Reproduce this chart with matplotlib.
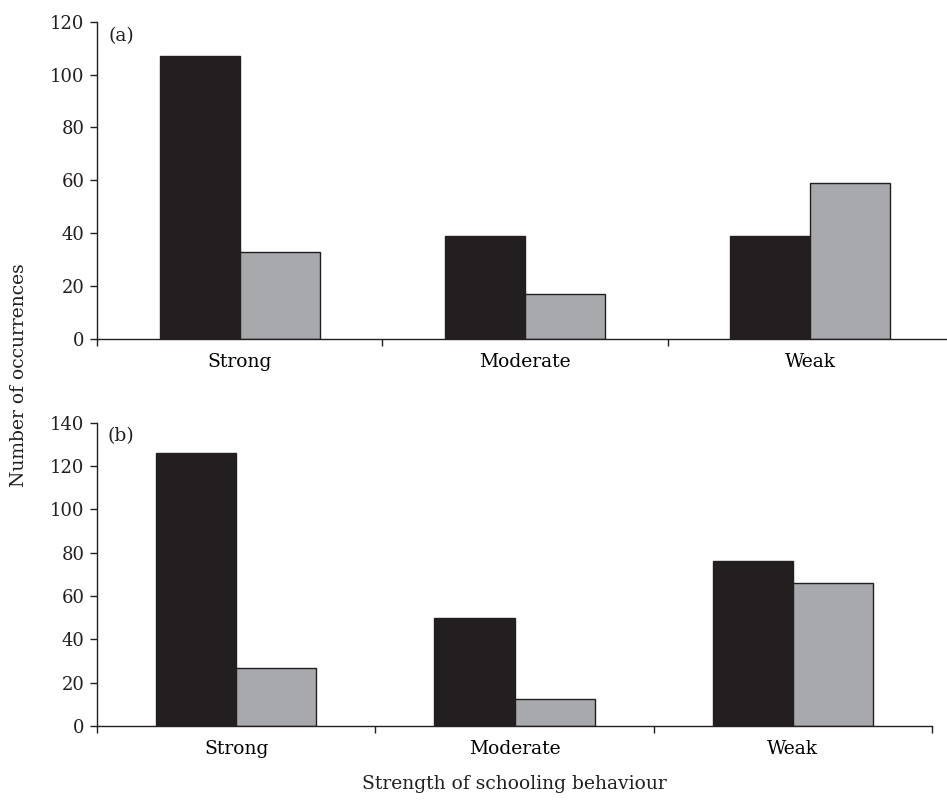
import matplotlib
matplotlib.use("Agg")
import matplotlib.pyplot as plt
import numpy as np

plt.rcParams["font.family"] = ["DejaVu Serif"]

categories = ["Strong", "Moderate", "Weak"]

# panel (a)
a_black = [107, 39, 39]
a_gray = [33, 17, 59]

# panel (b)
b_black = [126, 50, 76]
b_gray = [27, 12.5, 66]

BLACK = "#231f20"
GRAY = "#a7a9ac"


def draw_panel(ax, black, gray, ymax, letter, width):
    x = np.arange(len(categories))
    ax.bar(x - width / 2, black, width=width, color=BLACK, edgecolor=BLACK, linewidth=1)
    ax.bar(x + width / 2, gray, width=width, color=GRAY, edgecolor=BLACK, linewidth=1)
    ax.set_xlim(-0.5, len(categories) - 0.5)
    ax.set_ylim(0, ymax)
    ax.set_yticks(np.arange(0, ymax + 1, 20))
    ax.set_xticks(np.arange(-0.5, len(categories)))
    ax.set_xticklabels([])
    ax.set_xticks(x, minor=True)
    ax.set_xticklabels(categories, minor=True, fontsize=13.5)
    ax.tick_params(axis="x", which="minor", length=0, pad=10)
    ax.tick_params(axis="x", which="major", direction="out", length=5, width=1, color=BLACK)
    ax.tick_params(axis="y", direction="out", length=5, width=1, color=BLACK,
                   labelsize=13, pad=4, labelcolor=BLACK)
    for s in ["top", "right"]:
        ax.spines[s].set_visible(False)
    for s in ["left", "bottom"]:
        ax.spines[s].set_color(BLACK)
        ax.spines[s].set_linewidth(1)
    ax.text(0.013, 0.955, letter, transform=ax.transAxes, fontsize=13.5,
            va="center", ha="left", color=BLACK)


W, H = 947, 802
fig = plt.figure(figsize=(W / 100, H / 100), dpi=100)

# axes positions in pixels: left, right, top(ymax), bottom(0)
ax1 = fig.add_axes([97 / W, 1 - 339 / H, (953 - 97) / W, (339 - 21.7) / H])
ax2 = fig.add_axes([97 / W, 1 - 726 / H, (932 - 97) / W, (726 - 422.7) / H])

draw_panel(ax1, a_black, a_gray, 120, "(a)", 0.28)
draw_panel(ax2, b_black, b_gray, 140, "(b)", 0.288)

ax2.set_xlabel("Strength of schooling behaviour", fontsize=13.5, labelpad=12, color=BLACK)
fig.text(19 / W, 1 - 375 / H, "Number of occurrences", rotation=90, fontsize=13.5,
         ha="center", va="center", color=BLACK)

fig.savefig("out.png", dpi=100)
